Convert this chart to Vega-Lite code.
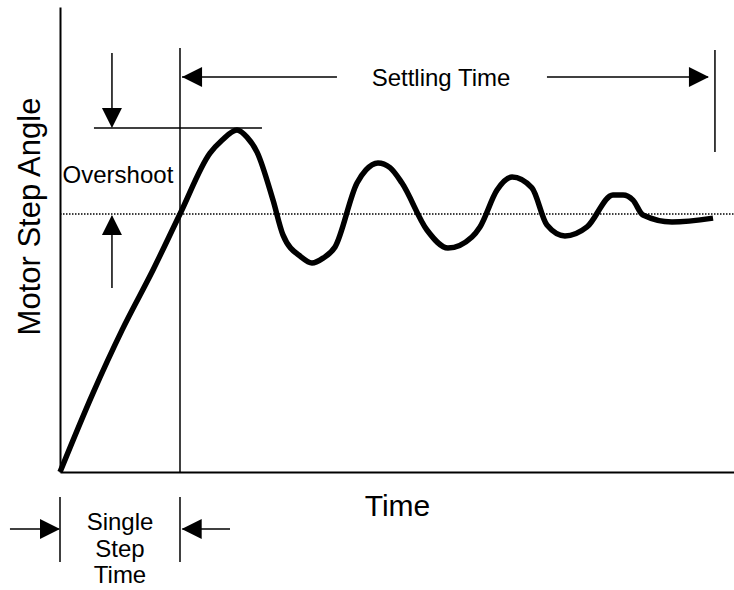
{
  "$schema": "https://vega.github.io/schema/vega-lite/v6.json",
  "width": 674,
  "height": 465,
  "autosize": {"type": "none"},
  "padding": {"left": 60, "top": 7, "right": 0, "bottom": 118},
  "background": "white",
  "config": {
    "view": {"stroke": null},
    "font": "Liberation Sans",
    "axis": {
      "domainColor": "black",
      "domainWidth": 2,
      "ticks": false,
      "labels": false,
      "grid": false,
      "titleFont": "Liberation Sans",
      "titleFontWeight": "normal",
      "titleColor": "black"
    }
  },
  "datasets": {
    "curve": [
      {"t": 0, "a": 0},
      {"t": 0.275, "a": 0.306},
      {"t": 0.517, "a": 0.55},
      {"t": 0.775, "a": 0.783},
      {"t": 1.0, "a": 1.0},
      {"t": 1.25, "a": 1.236},
      {"t": 1.35, "a": 1.286},
      {"t": 1.475, "a": 1.326},
      {"t": 1.558, "a": 1.298},
      {"t": 1.642, "a": 1.24},
      {"t": 1.775, "a": 1.054},
      {"t": 1.858, "a": 0.919},
      {"t": 2.008, "a": 0.834},
      {"t": 2.1, "a": 0.81},
      {"t": 2.192, "a": 0.829},
      {"t": 2.292, "a": 0.872},
      {"t": 2.475, "a": 1.12},
      {"t": 2.55, "a": 1.171},
      {"t": 2.65, "a": 1.198},
      {"t": 2.75, "a": 1.18},
      {"t": 2.85, "a": 1.12},
      {"t": 3.058, "a": 0.938},
      {"t": 3.233, "a": 0.868},
      {"t": 3.433, "a": 0.911},
      {"t": 3.5, "a": 0.95},
      {"t": 3.642, "a": 1.093},
      {"t": 3.767, "a": 1.143},
      {"t": 3.933, "a": 1.101},
      {"t": 4.058, "a": 0.957},
      {"t": 4.208, "a": 0.915},
      {"t": 4.392, "a": 0.95},
      {"t": 4.608, "a": 1.074},
      {"t": 4.692, "a": 1.074},
      {"t": 4.775, "a": 1.054},
      {"t": 4.858, "a": 0.996},
      {"t": 5.1, "a": 0.969},
      {"t": 5.442, "a": 0.984}
    ],
    "segments": [
      {"name": "overshoot level", "t": 0.283, "a": 1.333, "t2": 1.683, "a2": 1.333},
      {"name": "overshoot down arrow", "t": 0.433, "a": 1.624, "t2": 0.433, "a2": 1.34},
      {"name": "overshoot up arrow", "t": 0.433, "a": 0.713, "t2": 0.433, "a2": 0.99},
      {"name": "single step end", "t": 1, "a": 1.643, "t2": 1, "a2": 0},
      {"name": "settling left arrow", "t": 1.017, "a": 1.531, "t2": 2.308, "a2": 1.531},
      {"name": "settling right arrow", "t": 4.058, "a": 1.531, "t2": 5.4, "a2": 1.531},
      {"name": "settling end", "t": 5.458, "a": 1.636, "t2": 5.458, "a2": 1.24},
      {"name": "step tick start", "t": 0, "a": -0.097, "t2": 0, "a2": -0.349},
      {"name": "step tick end", "t": 1, "a": -0.097, "t2": 1, "a2": -0.349},
      {"name": "single left arrow", "t": -0.417, "a": -0.221, "t2": -0.01, "a2": -0.221},
      {"name": "single right arrow", "t": 1.02, "a": -0.221, "t2": 1.417, "a2": -0.221}
    ],
    "reference": [
      {"t": 0, "a": 1.0, "t2": 5.6167, "a2": 1.0}
    ],
    "heads": [
      {"t": 0.433, "a": 1.333, "dir": "down"},
      {"t": 0.433, "a": 0.996, "dir": "up"},
      {"t": 1.017, "a": 1.531, "dir": "left"},
      {"t": 5.408, "a": 1.531, "dir": "right"},
      {"t": 0, "a": -0.221, "dir": "right"},
      {"t": 1.014, "a": -0.221, "dir": "left"}
    ],
    "labels": [
      {"t": 0.483, "a": 1.12, "label": "Overshoot"},
      {"t": 3.175, "a": 1.496, "label": "Settling Time"},
      {"t": 0.5, "a": -0.225, "label": "Single"},
      {"t": 0.5, "a": -0.329, "label": "Step"},
      {"t": 0.5, "a": -0.43, "label": "Time"}
    ]
  },
  "encoding": {
    "x": {
      "field": "t",
      "type": "quantitative",
      "scale": {"domain": [0, 5.6167], "nice": false, "zero": false},
      "axis": {"title": "Time", "titleFontSize": 30, "titlePadding": 19, "orient": "bottom"}
    },
    "y": {
      "field": "a",
      "type": "quantitative",
      "scale": {"domain": [0, 1.8023], "nice": false, "zero": false},
      "axis": {"title": "Motor Step Angle", "titleFontSize": 31, "titlePadding": 14, "titleY": 209, "orient": "left"}
    }
  },
  "layer": [
    {
      "data": {"name": "reference"},
      "mark": {"type": "rule", "color": "black", "strokeWidth": 1.3, "strokeDash": [1.5, 1.5]},
      "encoding": {"x2": {"field": "t2"}, "y2": {"field": "a2"}}
    },
    {
      "data": {"name": "segments"},
      "mark": {"type": "rule", "color": "black", "strokeWidth": 1.5},
      "encoding": {"x2": {"field": "t2"}, "y2": {"field": "a2"}}
    },
    {
      "data": {"name": "curve"},
      "mark": {"type": "line", "color": "black", "strokeWidth": 5.5, "strokeJoin": "round", "interpolate": "monotone"},
      "encoding": {}
    },
    {
      "data": {"name": "heads"},
      "mark": {"type": "point", "filled": true, "color": "black", "opacity": 1, "size": 400, "strokeWidth": 0},
      "encoding": {
        "shape": {
          "field": "dir",
          "type": "nominal",
          "scale": {
            "domain": ["right", "left", "down", "up"],
            "range": ["M0,0L-2,-1L-2,1Z", "M0,0L2,-1L2,1Z", "M0,0L-1,-2L1,-2Z", "M0,0L-1,2L1,2Z"]
          },
          "legend": null
        }
      }
    },
    {
      "data": {"name": "labels"},
      "mark": {"type": "text", "font": "Liberation Sans", "fontSize": 24, "color": "black", "align": "center", "baseline": "alphabetic"},
      "encoding": {"text": {"field": "label"}}
    }
  ]
}
